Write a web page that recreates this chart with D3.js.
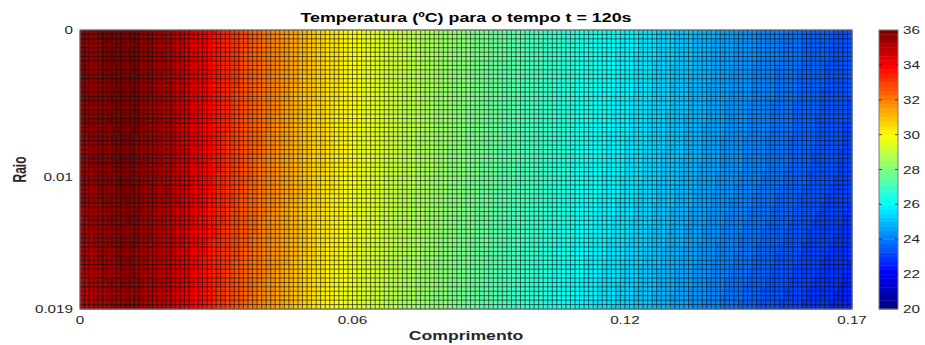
<!DOCTYPE html>
<html>
<head>
<meta charset="utf-8">
<script src="https://cdn.jsdelivr.net/npm/d3@7"></script>
<style>
  html, body { margin: 0; padding: 0; background: #fff; }
  svg { display: block; }
  text { font-family: "Liberation Sans", Arial, Helvetica, sans-serif; }
</style>
</head>
<body>
<svg id="chart" width="925" height="345"></svg>
<script>
// ---- Data ----
const titleText = "Temperatura (ºC) para o tempo t = 120s";
const xLabelText = "Comprimento";
const yLabelText = "Raio";

// sample positions along the length (m)
const xSamples = [0, 0.01, 0.02, 0.03, 0.04, 0.05, 0.06, 0.07, 0.08, 0.09,
                  0.10, 0.11, 0.12, 0.13, 0.14, 0.15, 0.16, 0.17];
// sample radii (m)
const rSamples = [0, 0.0095, 0.019];
// temperatures (ºC) at r = 0
const tempCenter = [35.6, 36.0, 35.1, 33.6, 32.2, 30.9, 29.9, 29.1, 28.4, 27.7,
                    27.1, 26.5, 25.9, 25.3, 24.7, 24.2, 23.7, 23.3];
// temperatures (ºC) at r = 0.0095
const tempMid    = [35.4, 35.9, 35.0, 33.5, 32.1, 30.8, 29.8, 29.0, 28.3, 27.6,
                    27.0, 26.3, 25.7, 25.1, 24.5, 24.0, 23.5, 23.1];
// temperatures (ºC) at r = 0.019
const tempWall   = [34.8, 35.5, 34.6, 33.2, 31.8, 30.5, 29.5, 28.7, 28.0, 27.3,
                    26.6, 25.9, 25.3, 24.7, 24.0, 23.4, 22.9, 22.5];

const xTicks = [0, 0.06, 0.12, 0.17];
const xTickLabels = ["0", "0.06", "0.12", "0.17"];
const yTicks = [0, 0.01, 0.019];
const yTickLabels = ["0", "0.01", "0.019"];
const cTicks = [20, 22, 24, 26, 28, 30, 32, 34, 36];
const cTickLabels = ["20", "22", "24", "26", "28", "30", "32", "34", "36"];

// mesh resolution of the surface
const meshNx = 171;
const meshNr = 64;
const cLimits = [20, 36];

// ---- Layout ----
const plot = { left: 80, right: 852, top: 30, bottom: 309 };
const cbar = { left: 879, right: 898, top: 30, bottom: 309 };
const sxTick = 1.45;
const sxLabel = 1.47;
const sxTitle = 1.375;

const svg = d3.select("#chart");

const x = d3.scaleLinear().domain([0, 0.17]).range([plot.left, plot.right]);
const y = d3.scaleLinear().domain([0, 0.019]).range([plot.top, plot.bottom]);
const cy = d3.scaleLinear().domain(cLimits).range([cbar.bottom, cbar.top]);

// jet(64) colormap
const jet = d3.range(64).map(i => {
  const t = i / 63;
  const cl = v => Math.max(0, Math.min(1, v));
  const r = cl(1.5 - Math.abs(4 * t - 3));
  const g = cl(1.5 - Math.abs(4 * t - 2));
  const b = cl(1.5 - Math.abs(4 * t - 1));
  return d3.rgb(r * 255, g * 255, b * 255).toString();
});
const colorIndex = d3.scaleQuantize().domain(cLimits).range(d3.range(64));
const colorOf = v => jet[colorIndex(Math.max(cLimits[0], Math.min(cLimits[1], v)))];

// temperature field from the read samples
const rows = [tempCenter, tempMid, tempWall];
const rowScales = rows.map(row => d3.scaleLinear().domain(xSamples).range(row));
function temp(xv, rv) {
  const vals = rowScales.map(s => s(xv));
  return d3.scaleLinear().domain(rSamples).range(vals)(rv);
}

const xNodes = d3.range(meshNx).map(i => x.invert(plot.left + (plot.right - plot.left) * i / (meshNx - 1)));
const rNodes = d3.range(meshNr).map(j => y.invert(plot.top + (plot.bottom - plot.top) * j / (meshNr - 1)));

const cells = [];
for (let j = 0; j < meshNr - 1; j++) {
  for (let i = 0; i < meshNx - 1; i++) {
    cells.push({ x0: xNodes[i], x1: xNodes[i + 1], r0: rNodes[j], r1: rNodes[j + 1],
                 v: temp(xNodes[i], rNodes[j]) });
  }
}

const gSurf = svg.append("g");
gSurf.selectAll("rect").data(cells).join("rect")
  .attr("x", d => x(d.x0))
  .attr("y", d => y(d.r0))
  .attr("width", d => x(d.x1) - x(d.x0) + 0.3)
  .attr("height", d => y(d.r1) - y(d.r0) + 0.3)
  .attr("fill", d => colorOf(d.v));

// mesh lines
const gMesh = svg.append("g").attr("stroke", "#000").attr("stroke-opacity", 0.58).attr("stroke-width", 1);
gMesh.selectAll("line.v").data(xNodes).join("line").attr("class", "v")
  .attr("x1", d => x(d)).attr("x2", d => x(d))
  .attr("y1", plot.top).attr("y2", plot.bottom);
gMesh.selectAll("line.h").data(rNodes).join("line").attr("class", "h")
  .attr("y1", d => y(d)).attr("y2", d => y(d))
  .attr("x1", plot.left).attr("x2", plot.right);

// axes box
svg.append("rect")
  .attr("x", plot.left).attr("y", plot.top)
  .attr("width", plot.right - plot.left).attr("height", plot.bottom - plot.top)
  .attr("fill", "none").attr("stroke", "#7a7a7a").attr("stroke-width", 1);

// x tick labels
svg.append("g").selectAll("text").data(xTicks).join("text")
  .attr("transform", d => `translate(${x(d)},324) scale(${sxTick},1)`)
  .attr("text-anchor", "middle")
  .attr("font-size", 10.5).attr("fill", "#262626")
  .text((d, i) => xTickLabels[i]);

// y tick labels
svg.append("g").selectAll("text").data(yTicks).join("text")
  .attr("transform", d => `translate(73,${y(d) + 4}) scale(${sxTick},1)`)
  .attr("text-anchor", "end")
  .attr("font-size", 10.5).attr("fill", "#262626")
  .text((d, i) => yTickLabels[i]);

// axis labels
svg.append("text")
  .attr("transform", `translate(466,340) scale(${sxLabel},1)`)
  .attr("text-anchor", "middle").attr("font-size", 12).attr("font-weight", "bold")
  .attr("fill", "#262626").text(xLabelText);

svg.append("text")
  .attr("transform", `translate(26,${(plot.top + plot.bottom) / 2}) scale(${sxLabel},1) rotate(-90)`)
  .attr("text-anchor", "middle").attr("font-size", 12).attr("font-weight", "bold")
  .attr("fill", "#262626").text(yLabelText);

// title
svg.append("text")
  .attr("transform", `translate(466,21.5) scale(${sxTitle},1)`)
  .attr("text-anchor", "middle").attr("font-size", 13).attr("font-weight", "bold")
  .attr("fill", "#000").text(titleText);

// colorbar
const cbSteps = d3.range(64);
const cbStep = (cLimits[1] - cLimits[0]) / 64;
svg.append("g").selectAll("rect").data(cbSteps).join("rect")
  .attr("x", cbar.left).attr("width", cbar.right - cbar.left)
  .attr("y", d => cy(cLimits[0] + (d + 1) * cbStep))
  .attr("height", d => cy(cLimits[0] + d * cbStep) - cy(cLimits[0] + (d + 1) * cbStep) + 0.4)
  .attr("fill", d => jet[d]);

svg.append("rect")
  .attr("x", cbar.left).attr("y", cbar.top)
  .attr("width", cbar.right - cbar.left).attr("height", cbar.bottom - cbar.top)
  .attr("fill", "none").attr("stroke", "#7a7a7a").attr("stroke-width", 1);

const gct = svg.append("g").attr("stroke", "#262626").attr("stroke-width", 0.8);
gct.selectAll("line.r").data(cTicks.slice(1, -1)).join("line").attr("class", "r")
  .attr("x1", cbar.right - 3).attr("x2", cbar.right)
  .attr("y1", d => cy(d)).attr("y2", d => cy(d));
gct.selectAll("line.l").data(cTicks.slice(1, -1)).join("line").attr("class", "l")
  .attr("x1", cbar.left).attr("x2", cbar.left + 3)
  .attr("y1", d => cy(d)).attr("y2", d => cy(d));

svg.append("g").selectAll("text").data(cTicks).join("text")
  .attr("transform", d => `translate(903,${cy(d) + 4}) scale(${sxTick},1)`)
  .attr("text-anchor", "start")
  .attr("font-size", 10.5).attr("fill", "#262626")
  .text((d, i) => cTickLabels[i]);
</script>
</body>
</html>
